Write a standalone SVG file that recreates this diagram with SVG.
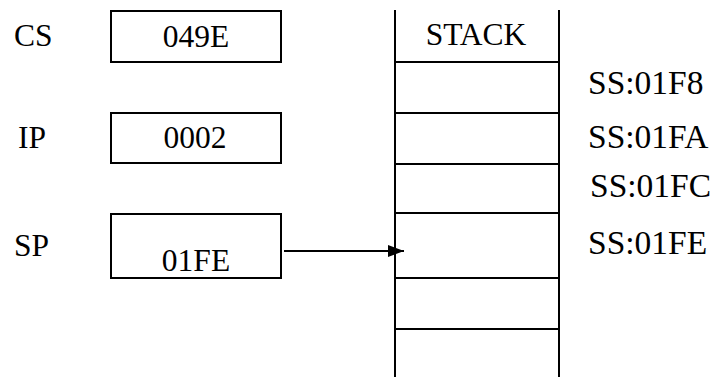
<svg xmlns="http://www.w3.org/2000/svg" width="710" height="377" viewBox="0 0 710 377">
<style>
text{font-family:'Liberation Serif','Times New Roman',serif;font-size:31.5px;fill:#000}
.c{text-anchor:middle}
.ss{font-size:33.5px}
.box{fill:#fff;stroke:#000;stroke-width:2}
.ln{stroke:#000;stroke-width:2;fill:none}
</style>
<defs>
<marker id="ah" viewBox="0 0 16 12" refX="16" refY="6" markerWidth="16" markerHeight="12" markerUnits="userSpaceOnUse" orient="auto">
<path d="M0,0 L16,6 L0,12 Z" fill="#000"/>
</marker>
</defs>
<rect width="710" height="377" fill="#fff"/>
<g id="cs">
<text x="14" y="46">CS</text>
<rect class="box" x="111" y="11" width="170" height="51"/>
<text class="c" x="196" y="47">049E</text>
</g>
<g id="ip">
<text x="18" y="148">IP</text>
<rect class="box" x="111" y="113" width="170" height="50"/>
<text class="c" x="195" y="148">0002</text>
</g>
<g id="sp">
<text x="14" y="256">SP</text>
<rect class="box" x="111" y="214" width="170" height="64"/>
<text class="c" x="196" y="271">01FE</text>
</g>
<g id="stack">
<line class="ln" x1="395" y1="10" x2="395" y2="377"/>
<line class="ln" x1="559" y1="10" x2="559" y2="377"/>
<line class="ln" x1="395" y1="62" x2="559" y2="62"/>
<line class="ln" x1="395" y1="113" x2="559" y2="113"/>
<line class="ln" x1="395" y1="164" x2="559" y2="164"/>
<line class="ln" x1="395" y1="213" x2="559" y2="213"/>
<line class="ln" x1="395" y1="278" x2="559" y2="278"/>
<line class="ln" x1="395" y1="329" x2="559" y2="329"/>
<text class="c" x="476" y="45">STACK</text>
</g>
<g id="addresses">
<text class="ss" x="588" y="94">SS:01F8</text>
<text class="ss" x="588" y="148">SS:01FA</text>
<text class="ss" x="590" y="197">SS:01FC</text>
<text class="ss" x="588" y="254">SS:01FE</text>
</g>
<g id="connectors">
<line class="ln" x1="284" y1="251" x2="404" y2="251" marker-end="url(#ah)"/>
</g>
</svg>
